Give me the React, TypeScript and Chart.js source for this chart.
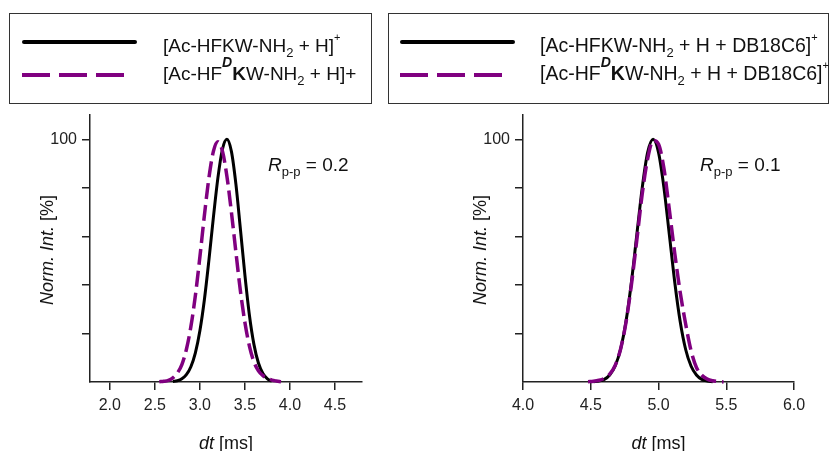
import React, { useEffect, useRef } from 'react';
import { Chart, registerables } from 'chart.js';

Chart.register(...registerables);

const FONT = "'Liberation Sans', Arial, Helvetica, sans-serif";
const PURPLE = '#800080';
const AXIS = '#222222';

// ---- Left panel: [Ac-HFKW-NH2 + H]+ vs [Ac-HF(D)KW-NH2 + H]+ ----
const leftXRange = [1.78, 4.8];
const leftXTicks = [2.0, 2.5, 3.0, 3.5, 4.0, 4.5];
const leftBlackX = [2.70, 2.75, 2.80, 2.85, 2.90, 2.95, 3.00, 3.05, 3.10, 3.15, 3.20, 3.25, 3.30, 3.35, 3.40, 3.45, 3.50, 3.55, 3.60, 3.65, 3.70, 3.75, 3.80];
const leftBlackY = [0.2, 0.5, 1.3, 3.0, 6.3, 12.0, 21.1, 33.9, 50.1, 67.8, 84.1, 95.8, 100, 95.0, 81.5, 63.0, 44.0, 27.5, 15.5, 7.8, 3.5, 1.3, 0.3];
const leftPurpleX = [2.55, 2.60, 2.65, 2.70, 2.75, 2.80, 2.85, 2.90, 2.95, 3.00, 3.05, 3.10, 3.15, 3.20, 3.25, 3.30, 3.35, 3.40, 3.45, 3.50, 3.55, 3.60, 3.65, 3.70, 3.75, 3.80, 3.85, 3.90];
const leftPurpleY = [0.1, 0.3, 0.7, 1.7, 3.7, 7.2, 13.4, 22.8, 35.6, 51.5, 68.6, 84.0, 95.0, 99.0, 95.2, 84.8, 70.0, 53.5, 37.5, 24.5, 14.8, 8.3, 4.6, 2.6, 1.5, 0.8, 0.4, 0.1];

// ---- Right panel: with DB18C6 ----
const rightXRange = [4.0, 6.0];
const rightXTicks = [4.0, 4.5, 5.0, 5.5, 6.0];
const rightBlackX = [4.52, 4.56, 4.60, 4.64, 4.68, 4.72, 4.76, 4.80, 4.84, 4.88, 4.92, 4.96, 5.00, 5.04, 5.08, 5.12, 5.16, 5.20, 5.24, 5.28, 5.32, 5.36, 5.40];
const rightBlackY = [0.1, 0.4, 1.1, 2.9, 6.6, 13.5, 24.9, 41.1, 60.7, 80.1, 94.6, 100, 94.6, 80.1, 60.7, 41.1, 24.9, 13.5, 6.6, 2.9, 1.1, 0.4, 0.1];
const rightPurpleX = [4.48, 4.52, 4.56, 4.60, 4.64, 4.68, 4.72, 4.76, 4.80, 4.84, 4.88, 4.92, 4.96, 5.00, 5.04, 5.08, 5.12, 5.16, 5.20, 5.24, 5.28, 5.32, 5.36, 5.40, 5.44, 5.48];
const rightPurpleY = [0.1, 0.3, 0.7, 1.5, 3.2, 6.8, 13.5, 24.5, 40.0, 58.5, 77.5, 92.0, 99.5, 98.0, 88.0, 71.0, 53.0, 37.0, 24.0, 13.0, 6.0, 2.8, 1.2, 0.5, 0.2, 0.05];

// ---- shared y axis ----
const yRange = [0, 110];
const yTicks = [20, 40, 60, 80, 100];
const yLabelled = [100];

const zip = (xs: number[], ys: number[]) => xs.map((x, i) => ({ x, y: ys[i] }));

type PanelProps = {
  left: number;
  xRange: number[];
  xTicks: number[];
  blackX: number[];
  blackY: number[];
  purpleX: number[];
  purpleY: number[];
  yAxisWidth: number;
  padRight: number;
};

function Panel(p: PanelProps) {
  const ref = useRef<HTMLCanvasElement | null>(null);
  useEffect(() => {
    if (!ref.current) return;
    const chart = new Chart(ref.current, {
      type: 'line',
      data: {
        datasets: [
          {
            data: zip(p.blackX, p.blackY),
            borderColor: '#000000',
            borderWidth: 3,
            pointRadius: 0,
            cubicInterpolationMode: 'monotone',
            fill: false,
            clip: false as any,
            order: 1,
          },
          {
            data: zip(p.purpleX, p.purpleY),
            borderColor: PURPLE,
            borderWidth: 3.5,
            borderDash: [16, 6],
            pointRadius: 0,
            cubicInterpolationMode: 'monotone',
            fill: false,
            clip: false as any,
            order: 0,
          },
        ],
      },
      options: {
        responsive: false,
        animation: false,
        devicePixelRatio: 1,
        events: [],
        layout: { padding: { left: 0, right: p.padRight, top: 115, bottom: 0 } },
        plugins: { legend: { display: false }, tooltip: { enabled: false }, title: { display: false } },
        scales: {
          x: {
            type: 'linear',
            min: p.xRange[0],
            max: p.xRange[1],
            afterBuildTicks: (s: any) => {
              s.ticks = p.xTicks.map((v) => ({ value: v }));
            },
            afterFit: (s: any) => {
              s.height = 69;
            },
            ticks: {
              callback: (v: any) => Number(v).toFixed(1),
              font: { family: FONT, size: 16 },
              color: AXIS,
              padding: 6,
              maxRotation: 0,
              autoSkip: false,
            },
            grid: { drawOnChartArea: false, drawTicks: true, tickLength: 8, color: AXIS, lineWidth: 1.5 },
            border: { display: true, color: AXIS, width: 1.5 },
          },
          y: {
            type: 'linear',
            min: yRange[0],
            max: yRange[1],
            afterBuildTicks: (s: any) => {
              s.ticks = yTicks.map((v) => ({ value: v }));
            },
            afterFit: (s: any) => {
              s.width = p.yAxisWidth;
            },
            ticks: {
              callback: (v: any) => (yLabelled.includes(Number(v)) ? String(v) : ''),
              font: { family: FONT, size: 16 },
              color: AXIS,
              padding: 5,
              autoSkip: false,
            },
            grid: { drawOnChartArea: false, drawTicks: true, tickLength: 8, color: AXIS, lineWidth: 1.5 },
            border: { display: true, color: AXIS, width: 1.5 },
          },
        },
      } as any,
    });
    return () => chart.destroy();
  }, []);
  return (
    <canvas
      ref={ref}
      width={415}
      height={451}
      style={{ position: 'absolute', left: p.left, top: 0, width: 415, height: 451 }}
    />
  );
}

const abs = (s: React.CSSProperties): React.CSSProperties => ({ position: 'absolute', whiteSpace: 'nowrap', ...s });

const sub = (t: string) => <span style={{ fontSize: 13, position: 'relative', top: 5 }}>{t}</span>;
const sup = (t: string) => <span style={{ fontSize: 11, position: 'relative', top: -11 }}>{t}</span>;
const dK = (
  <>
    <span style={{ fontSize: 14, fontWeight: 'bold', fontStyle: 'italic', position: 'relative', top: -13 }}>D</span>
    <span style={{ fontWeight: 'bold' }}>K</span>
  </>
);

function LegendBox({ left, width, textLeft, lineLeft, fontSize, rows }: { left: number; width: number; textLeft: number; lineLeft: number; fontSize: number; rows: React.ReactNode[] }) {
  return (
    <>
      <div style={abs({ left, top: 13, width, height: 91, border: '1.5px solid #333', boxSizing: 'border-box' })} />
      <div style={abs({ left: lineLeft, top: 40, width: 115, height: 4, background: '#000', borderRadius: 2 })} />
      <div
        style={abs({
          left: lineLeft,
          top: 73,
          width: 103,
          height: 4,
          background: `repeating-linear-gradient(to right, ${PURPLE} 0px, ${PURPLE} 28px, transparent 28px, transparent 37px)`,
        })}
      />
      <div style={abs({ left: textLeft, top: 36, fontSize, lineHeight: '19px' })}>{rows[0]}</div>
      <div style={abs({ left: textLeft, top: 64, fontSize, lineHeight: '19px' })}>{rows[1]}</div>
    </>
  );
}

function Rpp({ left, value }: { left: number; value: string }) {
  return (
    <div style={abs({ left, top: 155, fontSize: 19, lineHeight: '19px' })}>
      <i>R</i>
      {sub('p-p')} = {value}
    </div>
  );
}

function YTitle({ cx }: { cx: number }) {
  return (
    <div style={abs({ left: cx, top: 250, fontSize: 18, lineHeight: '18px', transform: 'translate(-50%, -50%) rotate(-90deg)' })}>
      <i>Norm. Int.</i> [%]
    </div>
  );
}

function XTitle({ cx }: { cx: number }) {
  return (
    <div style={abs({ left: cx, top: 443, fontSize: 18, lineHeight: '18px', transform: 'translate(-50%, -50%)' })}>
      <i>dt</i> [ms]
    </div>
  );
}

export default function App() {
  return (
    <div
      style={{
        position: 'absolute',
        left: 0,
        top: 0,
        width: 830,
        height: 451,
        background: '#ffffff',
        overflow: 'hidden',
        fontFamily: FONT,
        color: '#111',
      }}
    >
      <Panel
        left={0}
        xRange={leftXRange}
        xTicks={leftXTicks}
        blackX={leftBlackX}
        blackY={leftBlackY}
        purpleX={leftPurpleX}
        purpleY={leftPurpleY}
        yAxisWidth={90}
        padRight={53}
      />
      <Panel
        left={415}
        xRange={rightXRange}
        xTicks={rightXTicks}
        blackX={rightBlackX}
        blackY={rightBlackY}
        purpleX={rightPurpleX}
        purpleY={rightPurpleY}
        yAxisWidth={108}
        padRight={36}
      />
      <LegendBox
        left={9}
        width={363}
        lineLeft={22}
        textLeft={163}
        fontSize={19}
        rows={[
          <>[Ac-HFKW-NH{sub('2')} + H]{sup('+')}</>,
          <>[Ac-HF{dK}W-NH{sub('2')} + H]+</>,
        ]}
      />
      <LegendBox
        left={388}
        width={441}
        lineLeft={400}
        textLeft={540}
        fontSize={19.5}
        rows={[
          <>[Ac-HFKW-NH{sub('2')} + H + DB18C6]{sup('+')}</>,
          <>[Ac-HF{dK}W-NH{sub('2')} + H + DB18C6]{sup('+')}</>,
        ]}
      />
      <Rpp left={268} value="0.2" />
      <Rpp left={700} value="0.1" />
      <YTitle cx={47} />
      <YTitle cx={480} />
      <XTitle cx={226} />
      <XTitle cx={658.5} />
    </div>
  );
}
